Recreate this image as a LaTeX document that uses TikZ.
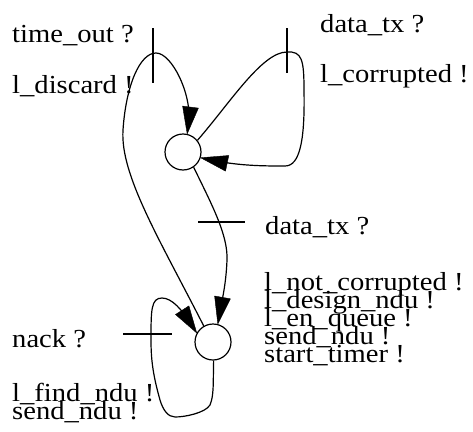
\documentclass[tikz,border=0pt]{standalone}
\usepackage{fontspec}
\setmainfont{Liberation Serif}[FakeStretch=1.1]
\tikzset{
  state/.style={circle,draw=black,line width=1.2pt,minimum size=36pt,inner sep=0pt},
  trans/.style={draw=black,line width=1.2pt,shorten >=12pt},
  head/.style={fill=black,draw=black,line width=0.4pt,line join=miter},
  tick/.style={draw=black,line width=1.2pt},
  lbl/.style={anchor=base west,inner sep=0pt,font=\fontsize{26}{28}\selectfont}
}
\begin{document}
\begin{tikzpicture}[x=1pt,y=-1pt]
\useasboundingbox (0,0) rectangle (473,431);
\node[state] (T) at (183,152) {};
\node[state] (B) at (213,342) {};
% time_out loop B -> T
\draw[trans] (B.120) .. controls (160,240) and (120,175) .. (123,130)
  .. controls (126,85) and (140,53) .. (156,53)
  .. controls (172,53) and (192,95) .. (T.77);
\coordinate (h1a) at (198.4,108.1); \coordinate (h1b) at (182.6,106.1);
\fill[head] (T.77) -- (h1a) -- (h1b) -- cycle;
% data_tx self loop on T
\draw[trans] (T.39) .. controls (230,103) and (262,52) .. (287,52)
  .. controls (302,51) and (304,60) .. (304,90)
  .. controls (305,140) and (300,166) .. (285,166)
  .. controls (265,166) and (240,166) .. (T.-18);
\coordinate (h2a) at (228.8,155.5); \coordinate (h2b) at (225.5,171.1);
\fill[head] (T.-18) -- (h2a) -- (h2b) -- cycle;
% data_tx T -> B
\draw[trans] (T.-55) .. controls (212,205) and (228,235) .. (227,260)
  .. controls (226,285) and (222,300) .. (B.75);
\coordinate (h3a) at (230.4,298.8); \coordinate (h3b) at (214.6,296.0);
\fill[head] (B.75) -- (h3a) -- (h3b) -- cycle;
% nack self loop on B
\draw[trans] (B.-88) .. controls (213,385) and (214,395) .. (210,405)
  .. controls (205,413) and (185,417) .. (175,417)
  .. controls (168,417) and (163,410) .. (160,400)
  .. controls (153,375) and (151,360) .. (151,340)
  .. controls (151,310) and (151,298) .. (162,298)
  .. controls (172,298) and (182,310) .. (B.151);
\coordinate (h4a) at (188.9,305.9); \coordinate (h4b) at (175.5,314.5);
\fill[head] (B.151) -- (h4a) -- (h4b) -- cycle;
% ticks
\coordinate (k1a) at (153,28);  \coordinate (k1b) at (153,83);
\coordinate (k2a) at (287,28);  \coordinate (k2b) at (287,73);
\coordinate (k3a) at (198,222); \coordinate (k3b) at (245,222);
\coordinate (k4a) at (123,334); \coordinate (k4b) at (172,334);
\draw[tick] (k1a) -- (k1b);
\draw[tick] (k2a) -- (k2b);
\draw[tick] (k3a) -- (k3b);
\draw[tick] (k4a) -- (k4b);
% labels
\node[lbl] (l1) at (12,42) {time\_out ?};
\node[lbl] (l2) at (12,93) {l\_discard !};
\node[lbl] (l3) at (320,32) {data\_tx ?};
\node[lbl] (l4) at (320,82) {l\_corrupted !};
\node[lbl] (l5) at (265,234) {data\_tx ?};
\node[lbl] (l6) at (264,290) {l\_not\_corrupted !};
\node[lbl] (l7) at (264,308) {l\_design\_ndu !};
\node[lbl] (l8) at (264,326) {l\_en\_queue !};
\node[lbl] (l9) at (264,344) {send\_ndu !};
\node[lbl] (l10) at (264,362) {start\_timer !};
\node[lbl] (l11) at (12,347) {nack ?};
\node[lbl] (l12) at (12,401) {l\_find\_ndu !};
\node[lbl] (l13) at (12,419) {send\_ndu !};
\end{tikzpicture}
\end{document}
